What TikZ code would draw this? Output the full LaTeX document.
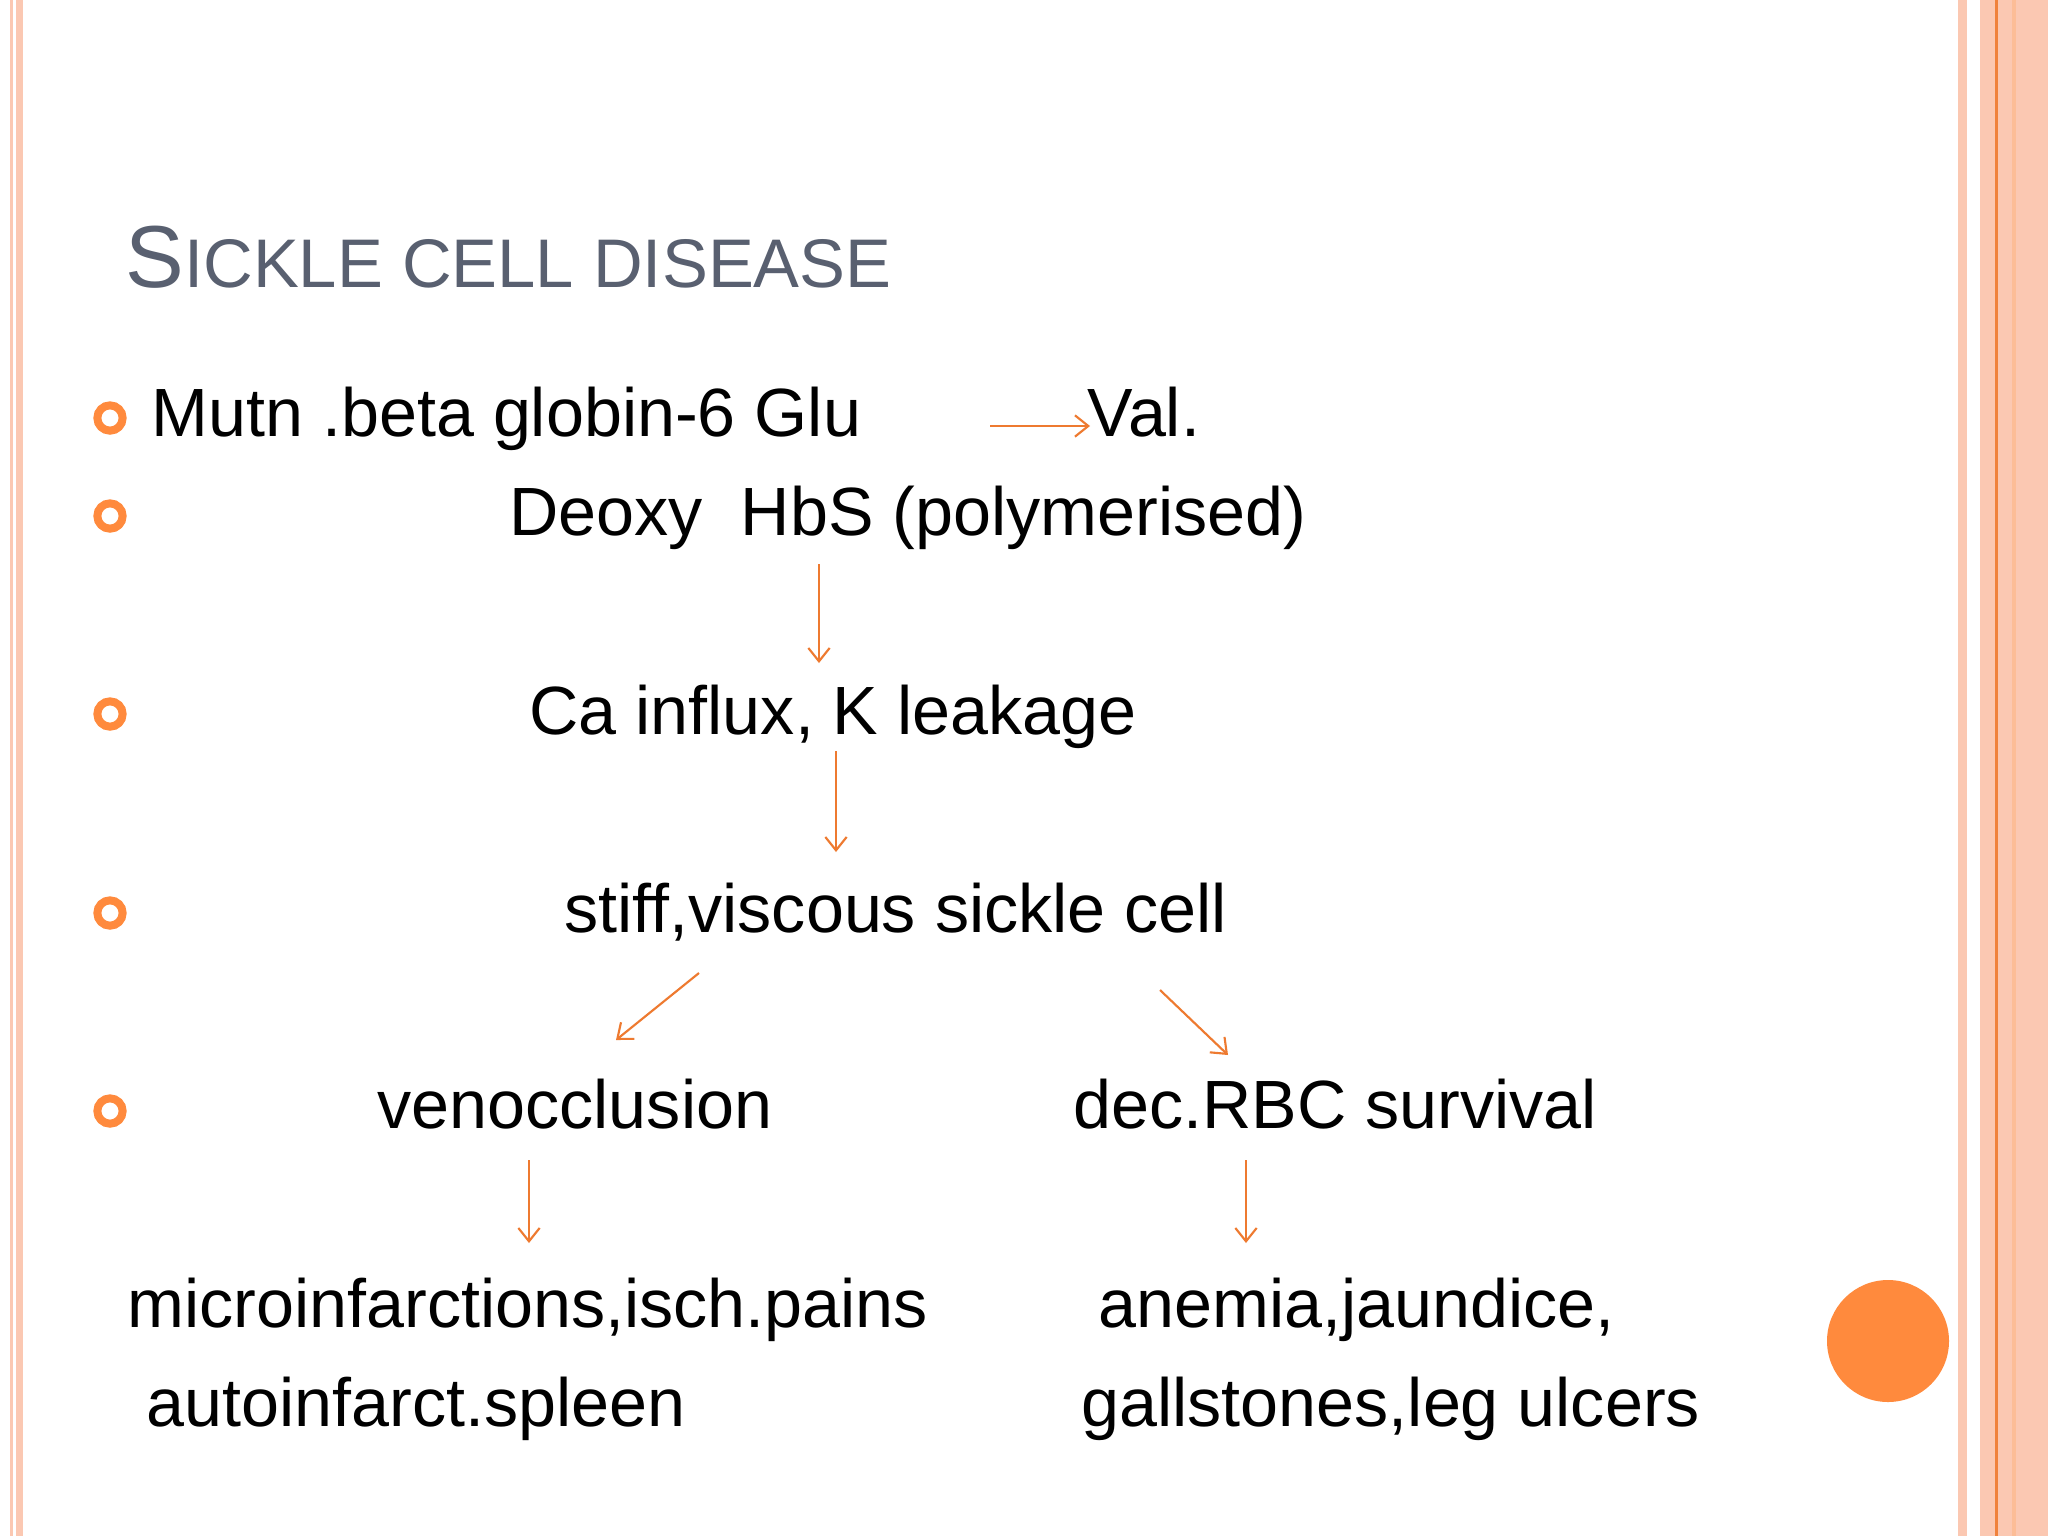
\documentclass[tikz,border=0pt]{standalone}
\usepackage{fontspec}
\setmainfont{Liberation Sans}
\usetikzlibrary{arrows.meta}
\definecolor{bord}{HTML}{FBC8B2}
\definecolor{dorg}{HTML}{F0823C}
\definecolor{orgc}{HTML}{FF8A3D}
\definecolor{arr}{HTML}{EE7A30}
\definecolor{ttl}{HTML}{596070}
\begin{document}
\begin{tikzpicture}[x=0.375pt,y=-0.375pt,
  txt/.style={anchor=base west,inner sep=0pt,font=\fontsize{25.6}{30}\selectfont},
  bul/.style={circle,draw=orgc,line width=3pt,minimum size=9.5pt,inner sep=0pt},
  ar/.style={draw=arr,line width=0.8pt,-{Straight Barb[length=5pt,width=8pt]}}]
\useasboundingbox (0,0) rectangle (2048,1536);
\fill[white] (0,0) rectangle (2048,1536);
\fill[bord] (10,0) rectangle (13,1536);
\fill[bord] (16,0) rectangle (23,1536);
\fill[bord] (1958,0) rectangle (1967,1536);
\fill[bord] (1980,0) rectangle (2048,1536);
\fill[dorg] (1995,0) rectangle (1998,1536);
\fill[bord!85!orange] (2012,0) rectangle (2016,1536);
\node[anchor=base west,inner sep=0pt,text=ttl] (title) at (125,287)
 {{\fontsize{33}{40}\selectfont S}{\fontsize{25.8}{32}\selectfont ICKLE CELL DISEASE}};
\foreach \y/\n in {418/b1,516/b2,714/b3,913/b4,1111/b5}
  \node[bul] (\n) at (110,\y) {};
\node[txt] (t1) at (151,436) {Mutn .beta globin-6 Glu};
\node[txt] (val) at (1087,436) {Val.};
\coordinate (a1s) at (990,426); \coordinate (a1e) at (1090,426);
\draw[ar] (a1s) -- (a1e);
\node[txt] (t2) at (509,535) {Deoxy\ \ HbS (polymerised)};
\node[txt] (t3) at (529,734) {Ca influx, K leakage};
\node[txt] (t4) at (564,932) {stiff,viscous sickle cell};
\node[txt] (t5) at (377,1128) {venocclusion};
\node[txt] (t6) at (1073,1128) {dec.RBC survival};
\node[txt] (t7) at (127,1327) {microinfarctions,isch.pains};
\node[txt] (t8) at (146,1426) {autoinfarct.spleen};
\node[txt] (t9) at (1098,1327) {anemia,jaundice,};
\node[txt] (t10) at (1081,1426) {gallstones,leg ulcers};
\coordinate (p1) at (819,564); \coordinate (p2) at (819,663);
\coordinate (p3) at (836,751); \coordinate (p4) at (836,852);
\coordinate (p5) at (699,973); \coordinate (p6) at (616,1040);
\coordinate (p7) at (1160,990); \coordinate (p8) at (1228,1055);
\coordinate (p9) at (529,1160); \coordinate (p10) at (529,1243);
\coordinate (p11) at (1246,1160); \coordinate (p12) at (1246,1243);
\draw[ar] (p1)--(p2); \draw[ar] (p3)--(p4); \draw[ar] (p5)--(p6);
\draw[ar] (p7)--(p8); \draw[ar] (p9)--(p10); \draw[ar] (p11)--(p12);
\node[circle,fill=orgc,minimum size=45.75pt,inner sep=0pt] (dot) at (1888,1341) {};
\end{tikzpicture}
\end{document}
